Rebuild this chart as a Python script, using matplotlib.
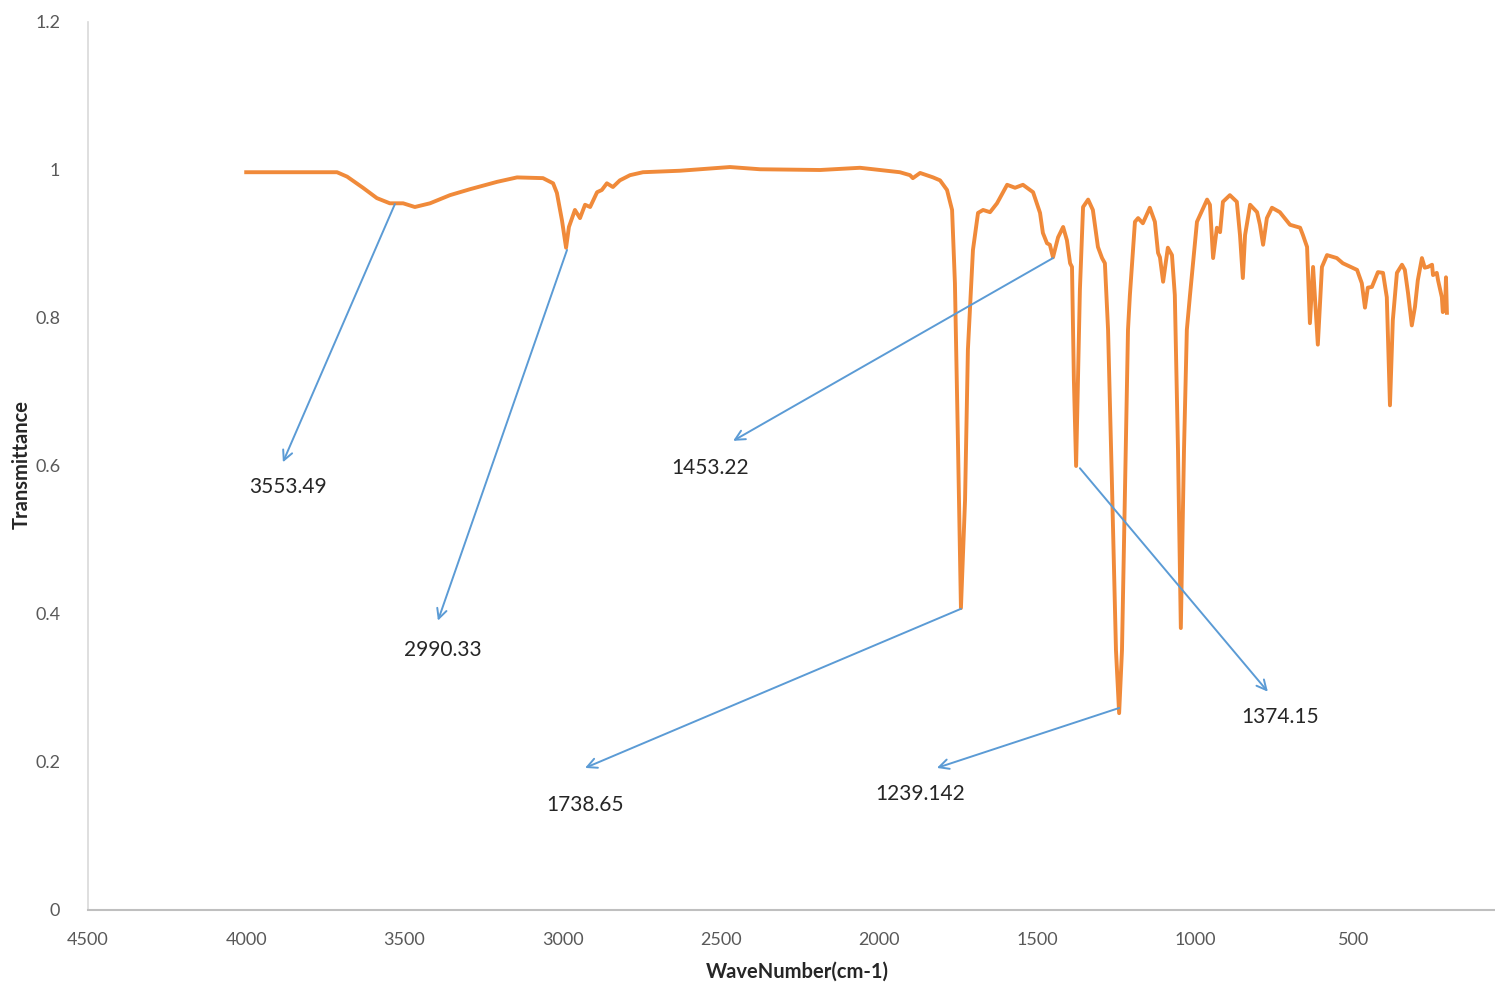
import numpy as np
from matplotlib import pyplot as plt

# FTIR spectrum
wavenumber = [4000, 3947, 3839, 3713, 3681, 3631, 3587, 3546, 3504, 3467, 3419, 3356,
              3293, 3207, 3144, 3062, 3030, 3018, 3002, 2989, 2980, 2961, 2945, 2929,
              2913, 2891, 2876, 2860, 2841, 2819, 2787, 2746, 2629, 2471, 2376, 2186,
              2060, 1934, 1902, 1893, 1870, 1829, 1807, 1785, 1769, 1760, 1750, 1741,
              1728, 1719, 1703, 1687, 1671, 1649, 1627, 1595, 1570, 1545, 1513, 1491,
              1482, 1469, 1460, 1450, 1434, 1418, 1406, 1396, 1390, 1384, 1377, 1371,
              1365, 1355, 1339, 1324, 1308, 1295, 1286, 1276, 1264, 1251, 1241, 1232,
              1222, 1213, 1207, 1191, 1181, 1166, 1144, 1128, 1118, 1112, 1102, 1087,
              1074, 1065, 1055, 1046, 1036, 1027, 1017, 995, 963, 954, 944, 932, 922,
              913, 891, 869, 859, 850, 843, 827, 805, 796, 786, 774, 758, 733, 701, 669,
              660, 647, 638, 628, 613, 600, 584, 553, 534, 489, 474, 464, 455, 442, 423,
              407, 395, 385, 376, 363, 347, 338, 328, 316, 306, 297, 284, 275, 265, 252,
              249, 237, 233, 221, 218, 211, 208, 205]
transmittance = [0.997, 0.997, 0.997, 0.997, 0.991, 0.976, 0.962, 0.955, 0.955, 0.950,
                 0.955, 0.966, 0.974, 0.984, 0.990, 0.989, 0.982, 0.969, 0.932, 0.895,
                 0.923, 0.946, 0.935, 0.953, 0.950, 0.970, 0.973, 0.982, 0.977, 0.986,
                 0.993, 0.997, 0.999, 1.004, 1.001, 1.000, 1.003, 0.997, 0.993, 0.989,
                 0.996, 0.990, 0.986, 0.973, 0.946, 0.847, 0.622, 0.408, 0.554, 0.757,
                 0.892, 0.942, 0.946, 0.943, 0.955, 0.980, 0.976, 0.980, 0.970, 0.942,
                 0.915, 0.901, 0.899, 0.882, 0.909, 0.923, 0.905, 0.874, 0.869, 0.716,
                 0.600, 0.716, 0.838, 0.950, 0.960, 0.946, 0.896, 0.881, 0.874, 0.784,
                 0.581, 0.351, 0.266, 0.351, 0.581, 0.784, 0.831, 0.930, 0.935, 0.928,
                 0.949, 0.930, 0.888, 0.882, 0.849, 0.895, 0.885, 0.831, 0.622, 0.381,
                 0.622, 0.784, 0.831, 0.930, 0.960, 0.953, 0.881, 0.922, 0.916, 0.957,
                 0.966, 0.957, 0.912, 0.854, 0.912, 0.953, 0.943, 0.926, 0.899, 0.935,
                 0.949, 0.943, 0.926, 0.922, 0.912, 0.896, 0.793, 0.869, 0.764, 0.869,
                 0.885, 0.881, 0.874, 0.865, 0.847, 0.814, 0.841, 0.842, 0.862, 0.861,
                 0.828, 0.682, 0.797, 0.861, 0.872, 0.865, 0.834, 0.790, 0.815, 0.851,
                 0.881, 0.868, 0.869, 0.872, 0.858, 0.861, 0.851, 0.828, 0.808, 0.811,
                 0.855, 0.807]

# peak labels: text, arrow tail on the curve, arrow head, text position
peak_labels = ['3553.49', '2990.33', '1453.22', '1738.65', '1239.142', '1374.15']
peak_xy = [(3530, 0.954), (2986, 0.892), (1450, 0.881), (1741, 0.407), (1241, 0.273), (1365, 0.597)]
head_xy = [(3884, 0.605), (3394, 0.391), (2461, 0.634), (2929, 0.192), (1817, 0.192), (771, 0.295)]
text_xy = [(3868, 0.572), (3378, 0.351), (2534, 0.597), (2929, 0.142), (1870, 0.157), (733, 0.261)]

x_ticks = [4500, 4000, 3500, 3000, 2500, 2000, 1500, 1000, 500]
y_ticks = [0, 0.2, 0.4, 0.6, 0.8, 1, 1.2]

plt.rcParams['font.family'] = ['Lato', 'DejaVu Sans']

fig = plt.figure(figsize=(14.95, 9.86), dpi=100)
ax = fig.add_axes([88/1495, 1-910/986, 1-88/1495, (910-22)/986])

ax.plot(wavenumber, transmittance, color='#F08A3A', lw=2.8, solid_joinstyle='round')

for lab, p, h, t in zip(peak_labels, peak_xy, head_xy, text_xy):
    ax.annotate('', xy=h, xytext=p,
                arrowprops=dict(arrowstyle='->,head_length=0.7,head_width=0.35',
                                color='#5B9BD5', lw=1.4, shrinkA=0, shrinkB=0))
    ax.text(t[0], t[1], lab, ha='center', va='center', fontsize=15, color='#262626')

ax.set_xlim(4500, 4500 - (1495-88)*3.1606)
ax.set_ylim(0, 1.2)
ax.set_xticks(x_ticks)
ax.set_xticklabels([str(v) for v in x_ticks])
ax.set_yticks(y_ticks)
ax.set_yticklabels(['0', '0.2', '0.4', '0.6', '0.8', '1', '1.2'])
ax.tick_params(length=0, labelsize=13, labelcolor='#595959')
ax.tick_params(axis='x', pad=16)
ax.tick_params(axis='y', pad=20)

for s in ['top', 'right']:
    ax.spines[s].set_visible(False)
ax.spines['left'].set_color('#D9D9D9')
ax.spines['bottom'].set_color('#BFBFBF')
ax.spines['left'].set_linewidth(1.2)
ax.spines['bottom'].set_linewidth(1.5)

fig.text(797/1495, 1-972/986, 'WaveNumber(cm-1)', ha='center', va='center',
         fontsize=14.5, fontweight='bold', color='#262626')
fig.text(22/1495, 1-465/986, 'Transmittance', ha='center', va='center', rotation=90,
         fontsize=14.5, fontweight='bold', color='#262626')

fig.savefig('out.png', dpi=100)
